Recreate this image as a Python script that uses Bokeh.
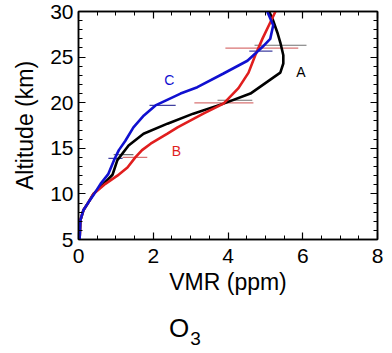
from bokeh.plotting import figure
from bokeh.models import LinearAxis, FixedTicker, Range1d, Div
from bokeh.layouts import column
from bokeh.core.properties import value
from bokeh.embed import file_html
from bokeh.resources import INLINE

# Profile A (black)
vmr_A = [0.03, 0.05, 0.13, 0.27, 0.40, 0.67, 0.91, 1.04, 1.34, 1.74, 2.38, 3.07, 3.88, 4.60, 5.19, 5.40, 5.48, 5.48, 5.40, 5.32, 5.19, 5.10]
alt_A = [5.0, 7.1, 8.2, 9.1, 10.0, 11.1, 12.1, 13.7, 15.3, 16.6, 17.7, 18.8, 19.9, 21.0, 22.7, 23.3, 24.3, 25.2, 26.6, 27.7, 29.2, 30.0]
# Profile B (red)
vmr_B = [0.03, 0.05, 0.13, 0.27, 0.40, 0.72, 1.04, 1.31, 1.52, 1.70, 1.93, 2.38, 2.65, 3.34, 3.88, 4.28, 4.55, 4.73, 4.92, 5.13, 5.27]
alt_B = [5.0, 7.1, 8.2, 9.1, 10.0, 11.1, 12.0, 12.9, 14.0, 14.8, 15.5, 16.6, 17.3, 18.8, 19.9, 21.6, 23.3, 25.2, 27.0, 28.8, 30.0]
# Profile C (blue)
vmr_C = [0.03, 0.05, 0.13, 0.27, 0.42, 0.59, 0.80, 0.95, 1.08, 1.25, 1.47, 1.75, 2.06, 2.73, 3.18, 3.88, 4.52, 4.68, 4.92, 5.13, 5.21, 5.05]
alt_C = [5.0, 7.1, 8.2, 9.1, 10.0, 11.1, 12.2, 13.7, 14.8, 15.8, 17.3, 18.6, 19.7, 21.0, 21.7, 23.2, 24.6, 25.2, 26.1, 27.0, 28.5, 30.0]

# Error bars (altitude, low, high)
err_alt_A = [14.3, 20.27, 26.3]
err_lo_A = [0.94, 3.72, 4.71]
err_hi_A = [1.47, 4.65, 6.10]
err_alt_B = [14.0, 19.97, 25.98]
err_lo_B = [1.18, 3.10, 3.93]
err_hi_B = [1.84, 4.68, 5.88]
err_alt_C = [13.9, 19.7, 25.65]
err_lo_C = [0.80, 1.90, 4.57]
err_hi_C = [1.18, 2.60, 5.19]

# Curve labels
lab_text = ["A", "B", "C"]
lab_x = [5.95, 2.62, 2.43]
lab_y = [23.4, 14.7, 22.5]

x_ticks = [0, 2, 4, 6, 8]
y_ticks = [5, 10, 15, 20, 25, 30]
x_minor = [i * 0.5 for i in range(17)]
y_minor = list(range(5, 31))

FONT = "Liberation Sans"
BLACK = "#000000"
RED = "#e01e1e"
BLUE = "#1010d0"

p = figure(width=392, height=305, x_range=Range1d(0, 8), y_range=Range1d(5, 30),
           output_backend="svg", toolbar_location=None,
           min_border_left=78, min_border_right=15, min_border_top=11, min_border_bottom=66)
p.grid.visible = False
p.outline_line_color = "black"
p.outline_line_width = 1.5
p.background_fill_color = "white"
p.border_fill_color = "white"

def style_axis(ax, ticker, labels=True):
    ax.ticker = ticker
    ax.major_tick_in = 7
    ax.major_tick_out = 0
    ax.minor_tick_in = 4
    ax.minor_tick_out = 0
    ax.axis_line_width = 1.5
    ax.axis_line_color = "black"
    ax.major_tick_line_color = "black"
    ax.minor_tick_line_color = "black"
    ax.major_tick_line_width = 1.2
    ax.minor_tick_line_width = 1
    ax.major_label_text_font = FONT
    ax.major_label_text_font_size = "21px"
    ax.major_label_text_color = "black"
    ax.axis_label_text_font = FONT
    ax.axis_label_text_font_size = "23px"
    ax.axis_label_text_color = "black"
    ax.axis_label_text_font_style = "normal"
    if not labels:
        ax.major_label_overrides = {t: "" for t in ticker.ticks}
        ax.major_label_standoff = 0

style_axis(p.xaxis[0], FixedTicker(ticks=x_ticks, minor_ticks=x_minor))
style_axis(p.yaxis[0], FixedTicker(ticks=y_ticks, minor_ticks=y_minor))
p.xaxis[0].axis_label = "VMR (ppm)"
p.yaxis[0].axis_label = "Altitude (km)"
p.xaxis[0].major_label_standoff = 9
p.yaxis[0].major_label_standoff = 5
p.xaxis[0].axis_label_standoff = 3
p.yaxis[0].axis_label_standoff = 9

top_ax = LinearAxis()
style_axis(top_ax, FixedTicker(ticks=x_ticks, minor_ticks=x_minor), labels=False)
p.add_layout(top_ax, "above")
right_ax = LinearAxis()
style_axis(right_ax, FixedTicker(ticks=y_ticks, minor_ticks=y_minor), labels=False)
p.add_layout(right_ax, "right")

# Error bars
p.segment(x0=err_lo_A, x1=err_hi_A, y0=err_alt_A, y1=err_alt_A, line_color="#707070", line_width=1.2)
p.segment(x0=err_lo_B, x1=err_hi_B, y0=err_alt_B, y1=err_alt_B, line_color="#d05050", line_width=1.2, line_alpha=0.8)
p.segment(x0=err_lo_C, x1=err_hi_C, y0=err_alt_C, y1=err_alt_C, line_color="#4040a0", line_width=1.2)

# Profiles
p.line(vmr_A, alt_A, line_color=BLACK, line_width=2.6)
p.line(vmr_B, alt_B, line_color=RED, line_width=2.6)
p.line(vmr_C, alt_C, line_color=BLUE, line_width=2.6)

p.text(x=lab_x, y=lab_y, text=lab_text, text_color=[BLACK, RED, BLUE],
       text_font=value(FONT), text_font_size="14px", text_align="center", text_baseline="middle")

# Species title O3 below the plot
title_div = Div(
    text=('<div style="font-family: \'Liberation Sans\', sans-serif; font-size: 26px; '
          'color: black; line-height: 26px; padding-left: 169px; padding-top: 10px; margin: 0;">'
          'O<span style="font-size: 19px; position: relative; top: 8px; margin-left: 1px;">3</span></div>'),
    width=392, height=48, margin=(0, 0, 0, 0))

layout = column(p, title_div, spacing=0, margin=(0, 0, 0, 0))

open("out.html", "w").write(file_html(layout, INLINE))
